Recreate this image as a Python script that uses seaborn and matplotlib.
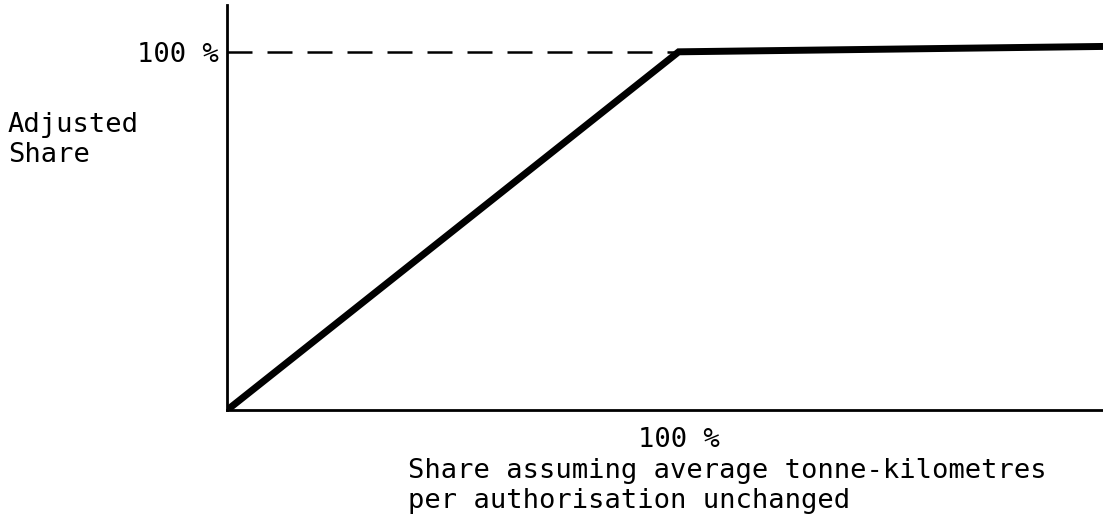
import matplotlib
matplotlib.use('Agg')
import matplotlib.pyplot as plt
import seaborn as sns
import pandas as pd

# values
share_assumed = [0, 100, 194]      # x, % share assuming unchanged tkm per authorisation
share_adjusted = [0, 100, 101.5]   # y, adjusted share %
ref_level = 100
y_tick_label = '100 %'
x_tick_label = '100 %'
x_label = 'Share assuming average tonne-kilometres\nper authorisation unchanged'
y_label = 'Adjusted\nShare'

sns.set_style('white')
plt.rcParams['font.family'] = ['DejaVu Sans Mono']
plt.rcParams['text.color'] = 'black'
FS = 19.5

df = pd.DataFrame({'x': share_assumed, 'y': share_adjusted})

fig = plt.figure(figsize=(11.03, 5.25), dpi=100)
ax = fig.add_axes([0.206, 0.219, 0.794, 0.771])

sns.lineplot(data=df, x='x', y='y', ax=ax, color='black', linewidth=5,
             solid_capstyle='butt', solid_joinstyle='miter')
ax.plot([0, 100], [ref_level, ref_level], color='black', linewidth=1.8,
        dashes=(10, 6))

ax.set_xlim(0, 194)
ax.set_ylim(0, 113)

for s in ['top', 'right']:
    ax.spines[s].set_visible(False)
for s in ['left', 'bottom']:
    ax.spines[s].set_linewidth(2)
    ax.spines[s].set_color('black')

ax.set_xticks([100])
ax.set_xticklabels([x_tick_label], fontsize=FS)
ax.set_yticks([ref_level])
ax.set_yticklabels([y_tick_label], fontsize=FS)
ax.tick_params(axis='y', length=0, pad=6, labelcolor='black')
ax.tick_params(axis='x', length=0, pad=12, labelcolor='black')
ax.set_xlabel('')
ax.set_ylabel('')

fig.text(0.37, 0.075, x_label, fontsize=FS, ha='left', va='center',
         linespacing=1.2, color='black')
fig.text(0.007, 0.733, y_label, fontsize=FS, ha='left', va='center',
         linespacing=1.2, color='black')

fig.savefig('out.png', dpi=100)
